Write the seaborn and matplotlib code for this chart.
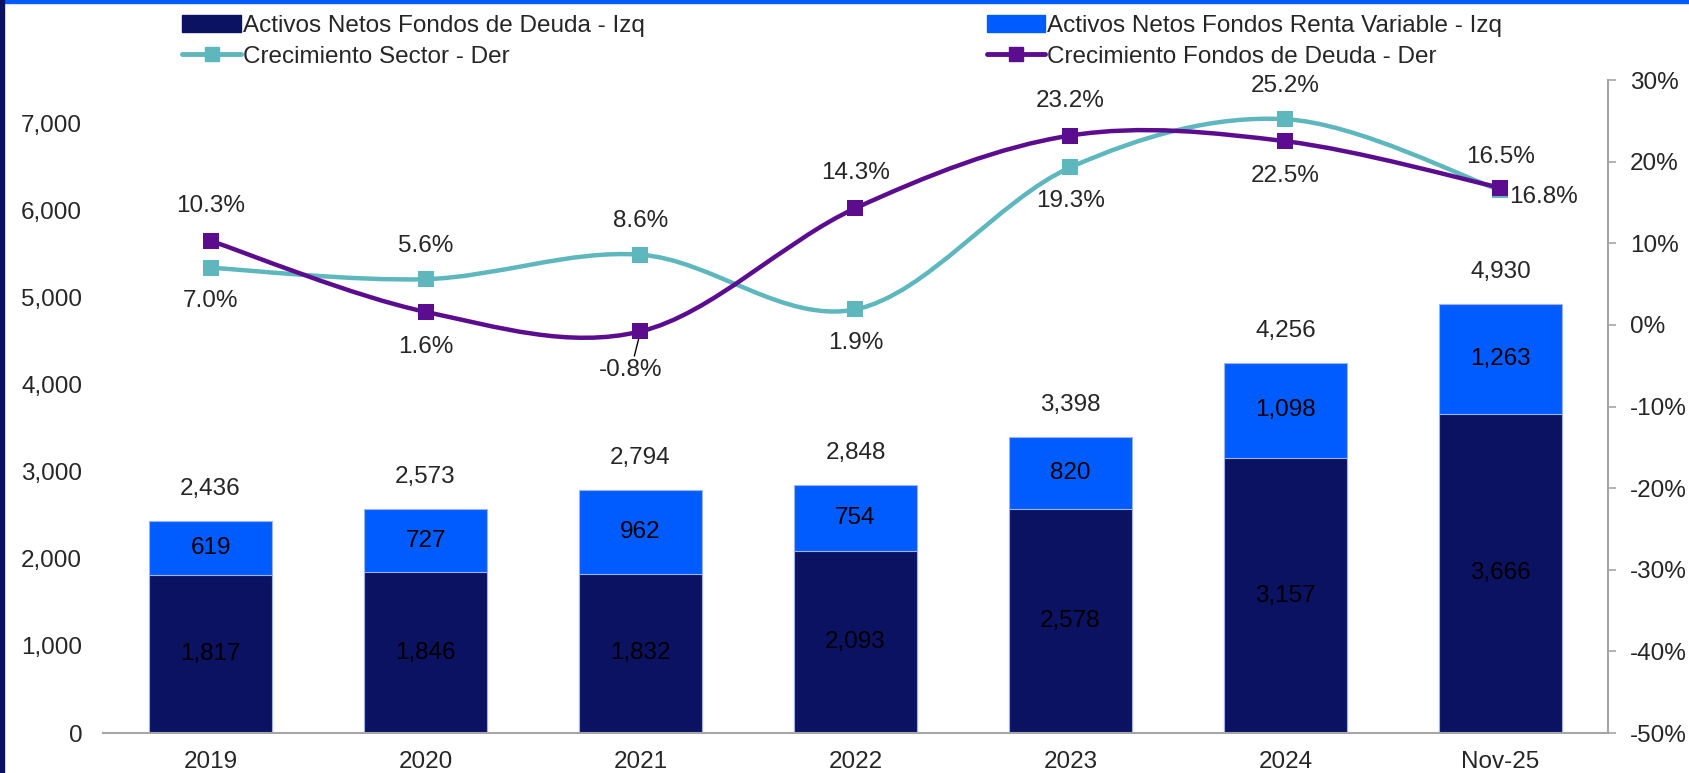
'''
Stacked bars (net assets) with smoothed growth lines on a secondary axis.
'''
import matplotlib
matplotlib.use('Agg')
import matplotlib.pyplot as plt
from matplotlib.path import Path
from matplotlib.patches import PathPatch, Patch
from matplotlib.lines import Line2D
import seaborn as sns

periods = ['2019', '2020', '2021', '2022', '2023', '2024', 'Nov-25']
deuda = [1817, 1846, 1832, 2093, 2578, 3157, 3666]
renta_variable = [619, 727, 962, 754, 820, 1098, 1263]
totales = [2436, 2573, 2794, 2848, 3398, 4256, 4930]
crec_sector = [7.0, 5.6, 8.6, 1.9, 19.3, 25.2, 16.5]
crec_deuda = [10.3, 1.6, -0.8, 14.3, 23.2, 22.5, 16.8]

NAVY = '#0b1262'
BLUE = '#005cff'
TEAL = '#5eb7bd'
PURPLE = '#5b0c8f'
GRID = '#a6a6a6'
FS = 17.5

sns.set_style('white')
plt.rcParams['font.family'] = ['Liberation Sans', 'DejaVu Sans']


def smooth_path(xs, ys):
    # Catmull-Rom style cubic bezier through the points (like Excel smoothed lines)
    pts = list(zip(xs, ys))
    verts = [pts[0]]
    codes = [Path.MOVETO]
    n = len(pts)
    for i in range(n - 1):
        p0 = pts[i - 1] if i > 0 else pts[i]
        p1 = pts[i]
        p2 = pts[i + 1]
        p3 = pts[i + 2] if i + 2 < n else pts[i + 1]
        c1 = (p1[0] + (p2[0] - p0[0]) / 6, p1[1] + (p2[1] - p0[1]) / 6)
        c2 = (p2[0] - (p3[0] - p1[0]) / 6, p2[1] - (p3[1] - p1[1]) / 6)
        verts += [c1, c2, p2]
        codes += [Path.CURVE4] * 3
    return Path(verts, codes)


fig = plt.figure(figsize=(16.89, 7.73), dpi=100)
ax1 = fig.add_axes([0.061, 0.0517, 0.891, 0.8448])

stack_top = [d + r for d, r in zip(deuda, renta_variable)]
sns.barplot(x=periods, y=stack_top, color=BLUE, saturation=1, width=0.57, ax=ax1,
            edgecolor='#9db3ee', linewidth=0.8)
sns.barplot(x=periods, y=deuda, color=NAVY, saturation=1, width=0.57, ax=ax1,
            edgecolor='#9db3ee', linewidth=0.8)

ax1.set_xlim(-0.5, len(periods) - 0.5)
ax1.set_ylim(0, 7500)
ax1.set_yticks(range(0, 7001, 1000))
ax1.set_yticklabels([f'{v:,}' for v in range(0, 7001, 1000)], fontsize=FS)
ax1.tick_params(axis='y', length=0, pad=15)
ax1.tick_params(axis='x', length=0, pad=13, labelsize=FS)
ax1.set_xlabel('')
ax1.set_ylabel('')
for side in ['left', 'top', 'right']:
    ax1.spines[side].set_visible(False)
ax1.spines['bottom'].set_color(GRID)
ax1.spines['bottom'].set_linewidth(1.5)

for i in range(len(periods)):
    ax1.text(i, deuda[i] / 2, f'{deuda[i]:,}', ha='center', va='center', fontsize=FS, color='black')
    ax1.text(i, deuda[i] + renta_variable[i] / 2, f'{renta_variable[i]:,}', ha='center', va='center',
             fontsize=FS, color='black')
    ax1.annotate(f'{totales[i]:,}', (i, stack_top[i]), xytext=(0, 23), textcoords='offset points',
                 ha='center', va='center', fontsize=FS)

ax2 = ax1.twinx()
ax2.set_ylim(-50, 30)
ax2.set_yticks(range(-50, 31, 10))
ax2.set_yticklabels([f'{v}%' for v in range(-50, 31, 10)], fontsize=FS)
ax2.tick_params(axis='y', direction='out', length=6, width=1.2, color=GRID, pad=10)
for side in ['left', 'top', 'bottom']:
    ax2.spines[side].set_visible(False)
ax2.spines['right'].set_color(GRID)
ax2.spines['right'].set_linewidth(1.5)

xs = list(range(len(periods)))
for series, color in [(crec_sector, TEAL), (crec_deuda, PURPLE)]:
    ax2.add_patch(PathPatch(smooth_path(xs, series), fill=False, edgecolor=color, linewidth=3.2,
                            capstyle='round', zorder=3))
    sns.scatterplot(x=xs, y=series, marker='s', s=130, color=color, linewidth=0, ax=ax2, zorder=4)
ax2.set_xlim(-0.5, len(periods) - 0.5)

# data labels: +1 above, -1 below
sector_pos = [-1, 1, 1, -1, -1, 1, 1]
deuda_pos = [1, -1, None, 1, 1, -1, None]
for i, v in enumerate(crec_sector):
    ax2.annotate(f'{v:.1f}%', (i, v), xytext=(0, 24 * sector_pos[i]), textcoords='offset points',
                 ha='center', va='center', fontsize=FS)
for i, v in enumerate(crec_deuda):
    if deuda_pos[i] is None:
        continue
    ax2.annotate(f'{v:.1f}%', (i, v), xytext=(0, 25 * deuda_pos[i]), textcoords='offset points',
                 ha='center', va='center', fontsize=FS)
ax2.annotate(f'{crec_deuda[2]:.1f}%', (2, crec_deuda[2]), xytext=(-7, -28), textcoords='offset points',
             ha='center', va='center', fontsize=FS,
             arrowprops=dict(arrowstyle='-', color='black', lw=1, shrinkA=0, shrinkB=4))
ax2.annotate(f'{crec_deuda[6]:.1f}%', (6, crec_deuda[6]), xytext=(31, -7), textcoords='offset points',
             ha='center', va='center', fontsize=FS)

handles = [
    Patch(color=NAVY, label='Activos Netos Fondos de Deuda - Izq'),
    Line2D([], [], color=TEAL, lw=3.5, marker='s', markersize=10, label='Crecimiento Sector - Der'),
    Patch(color=BLUE, label='Activos Netos Fondos Renta Variable - Izq'),
    Line2D([], [], color=PURPLE, lw=3.5, marker='s', markersize=10, label='Crecimiento Fondos de Deuda - Der'),
]
fig.legend(handles=handles, loc='upper left', bbox_to_anchor=(0.108, 0.980), ncol=2, frameon=False,
           fontsize=FS, handlelength=2.4, handletextpad=0.1, columnspacing=14.05, labelspacing=0.35,
           borderpad=0, borderaxespad=0)

# frame strips: blue on top, navy on the left
fig.patches.append(matplotlib.patches.Rectangle((0, 1 - 3 / 773), 1, 3 / 773, transform=fig.transFigure,
                                                color=BLUE, zorder=10))
fig.patches.append(matplotlib.patches.Rectangle((0, 0), 4 / 1689, 1, transform=fig.transFigure,
                                                color=NAVY, zorder=10))

fig.savefig('out.png', dpi=100)
